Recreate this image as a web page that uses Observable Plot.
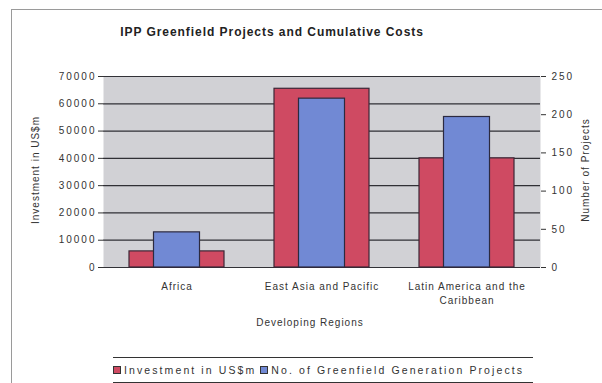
<!DOCTYPE html>
<html>
<head>
<meta charset="utf-8">
<script src="https://cdn.jsdelivr.net/npm/d3@7"></script>
<script src="https://cdn.jsdelivr.net/npm/@observablehq/plot@0.6"></script>
<style>
  html, body { margin: 0; padding: 0; background: #fff; }
  #wrap { position: relative; width: 602px; height: 383px; overflow: hidden; font-family: "Liberation Sans", Arial, sans-serif; color: #333; }
  #wrap svg { position: absolute; left: 0; top: 0; }
  .lbl { position: absolute; white-space: nowrap; transform: translate(-50%, -50%); }
  #wrap g[aria-label="y-axis tick label"] text { letter-spacing: 2px; }
</style>
</head>
<body>
<div id="wrap"></div>
<script>
const regions = ["Africa", "East Asia and Pacific", "Latin America and the Caribbean"];
const xTickLabels = ["Africa", "East Asia and Pacific", "Latin America and the\nCaribbean"];
const investment = [5900, 65500, 40000];   // US$m (left axis)
const projects = [46, 221, 197];           // number of projects (right axis)
const leftTicks = [0, 10000, 20000, 30000, 40000, 50000, 60000, 70000];
const rightTicks = [0, 50, 100, 150, 200, 250];

const leftMax = 70000, rightMax = 250, k = leftMax / rightMax;
const table = regions.map((r, i) => ({region: r, investment: investment[i], projects: projects[i], projScaled: projects[i] * k}));
const labelOf = Object.fromEntries(regions.map((r, i) => [r, xTickLabels[i]]));

const chart = Plot.plot({
  width: 602,
  height: 383,
  marginTop: 76,
  marginBottom: 116,
  marginLeft: 103,
  marginRight: 62,
  style: {fontFamily: "Liberation Sans, Arial, sans-serif", fontSize: "10px", letterSpacing: "1px", color: "#333", background: "transparent"},
  x: {domain: regions, padding: 0, label: null},
  y: {domain: [0, leftMax], label: null},
  marks: [
    Plot.frame({fill: "#d1d1d5", stroke: null}),
    Plot.gridY(leftTicks, {stroke: "#1e1e24", strokeOpacity: 0.9, strokeWidth: 1.2}),
    Plot.barY(table, {x: "region", y: "investment", fill: "#cf4a62", stroke: "#3c2636", strokeWidth: 1.2, insetLeft: 25, insetRight: 25}),
    Plot.barY(table, {x: "region", y: "projScaled", fill: "#7189d4", stroke: "#2c2a40", strokeWidth: 1.2, insetLeft: 49.5, insetRight: 49.5}),
    Plot.axisY({ticks: leftTicks, anchor: "left", tickSize: 5, tickPadding: 2, tickFormat: d => String(d), label: null}),
    Plot.axisY({ticks: rightTicks.map(v => v * k), anchor: "right", tickSize: 5, tickPadding: 6, tickFormat: d => String(Math.round(d / k)), label: null}),
    Plot.axisX({tickSize: 0, tickPadding: 13, lineHeight: 1.4, tickFormat: d => labelOf[d], label: null})
  ]
});

const wrap = document.getElementById("wrap");
wrap.appendChild(chart);

function addLabel(text, x, y, css) {
  const d = document.createElement("div");
  d.className = "lbl";
  d.textContent = text;
  d.style.left = x + "px";
  d.style.top = y + "px";
  Object.assign(d.style, css || {});
  wrap.appendChild(d);
  return d;
}
function addLine(x, y, w, h, color) {
  const d = document.createElement("div");
  Object.assign(d.style, {position: "absolute", left: x + "px", top: y + "px", width: w + "px", height: h + "px", background: color});
  wrap.appendChild(d);
}

// outer border
addLine(11, 9, 591, 1, "#9a9a9a");
addLine(11, 9, 1, 374, "#9a9a9a");

addLabel("IPP Greenfield Projects and Cumulative Costs", 272, 32, {fontSize: "12px", fontWeight: "bold", letterSpacing: "0.95px", color: "#222"});
addLabel("Investment in US$m", 35, 170, {fontSize: "10px", letterSpacing: "1px", transform: "translate(-50%, -50%) rotate(-90deg)"});
addLabel("Number of Projects", 585, 170, {fontSize: "10px", letterSpacing: "1px", transform: "translate(-50%, -50%) rotate(-90deg)"});
addLabel("Developing Regions", 310, 322, {fontSize: "10px", letterSpacing: "1px"});

// legend
addLine(113, 357, 420, 1, "#333");
addLine(113, 382, 420, 1, "#333");
const leg = document.createElement("div");
Object.assign(leg.style, {position: "absolute", left: "113px", top: "364px", fontSize: "10.5px", letterSpacing: "2.1px", whiteSpace: "nowrap", display: "flex", alignItems: "center"});
const items = [["Investment in US$m", "#cf4a62"], ["No. of Greenfield Generation Projects", "#7189d4"]];
items.forEach(([t, c], i) => {
  const sw = document.createElement("span");
  Object.assign(sw.style, {display: "inline-block", width: "6px", height: "6px", background: c, border: "1px solid #333", marginRight: "3px", marginLeft: i ? "4px" : "0"});
  const tx = document.createElement("span");
  tx.textContent = t;
  leg.appendChild(sw); leg.appendChild(tx);
});
wrap.appendChild(leg);
</script>
</body>
</html>
